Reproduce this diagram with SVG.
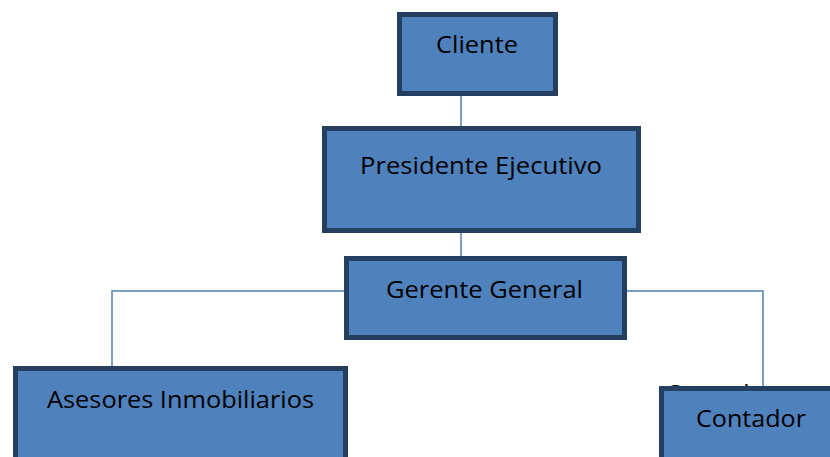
<svg xmlns="http://www.w3.org/2000/svg" width="830" height="457" viewBox="0 0 830 457">
<style>
.box{fill:#4F81BD;stroke:#243F60;stroke-width:5}
.lbl{font-family:"Open Sans","Noto Sans",sans-serif;font-size:24px;fill:#000}
.conn{fill:none;stroke:#4F81BD;stroke-width:1.5}
</style>
<rect width="830" height="457" fill="#fff"/>
<g id="connectors">
<line class="conn" x1="461" y1="96" x2="461" y2="127"/>
<line class="conn" x1="461" y1="233" x2="461" y2="257"/>
<polyline class="conn" points="345,291 112,291 112,367"/>
<polyline class="conn" points="626,291 763,291 763,387"/>
</g>
<text class="lbl" x="665" y="402" textLength="110" lengthAdjust="spacingAndGlyphs">Contador</text>
<g id="cliente"><rect class="box" x="399.5" y="14.5" width="156" height="79"/><text class="lbl" x="436" y="53" textLength="82" lengthAdjust="spacingAndGlyphs">Cliente</text></g>
<g id="presidente"><rect class="box" x="324.5" y="128.5" width="314" height="102"/><text class="lbl" x="360" y="174" textLength="242" lengthAdjust="spacingAndGlyphs">Presidente Ejecutivo</text></g>
<g id="gerente"><rect class="box" x="346.5" y="258.5" width="278" height="79"/><text class="lbl" x="386" y="298" textLength="197" lengthAdjust="spacingAndGlyphs">Gerente General</text></g>
<g id="asesores"><rect class="box" x="15.5" y="368.5" width="330" height="100"/><text class="lbl" x="47" y="408" textLength="267" lengthAdjust="spacingAndGlyphs">Asesores Inmobiliarios</text></g>
<g id="contador"><rect class="box" x="661.5" y="388.5" width="200" height="80"/><text class="lbl" x="696" y="427" textLength="110" lengthAdjust="spacingAndGlyphs">Contador</text></g>
</svg>
